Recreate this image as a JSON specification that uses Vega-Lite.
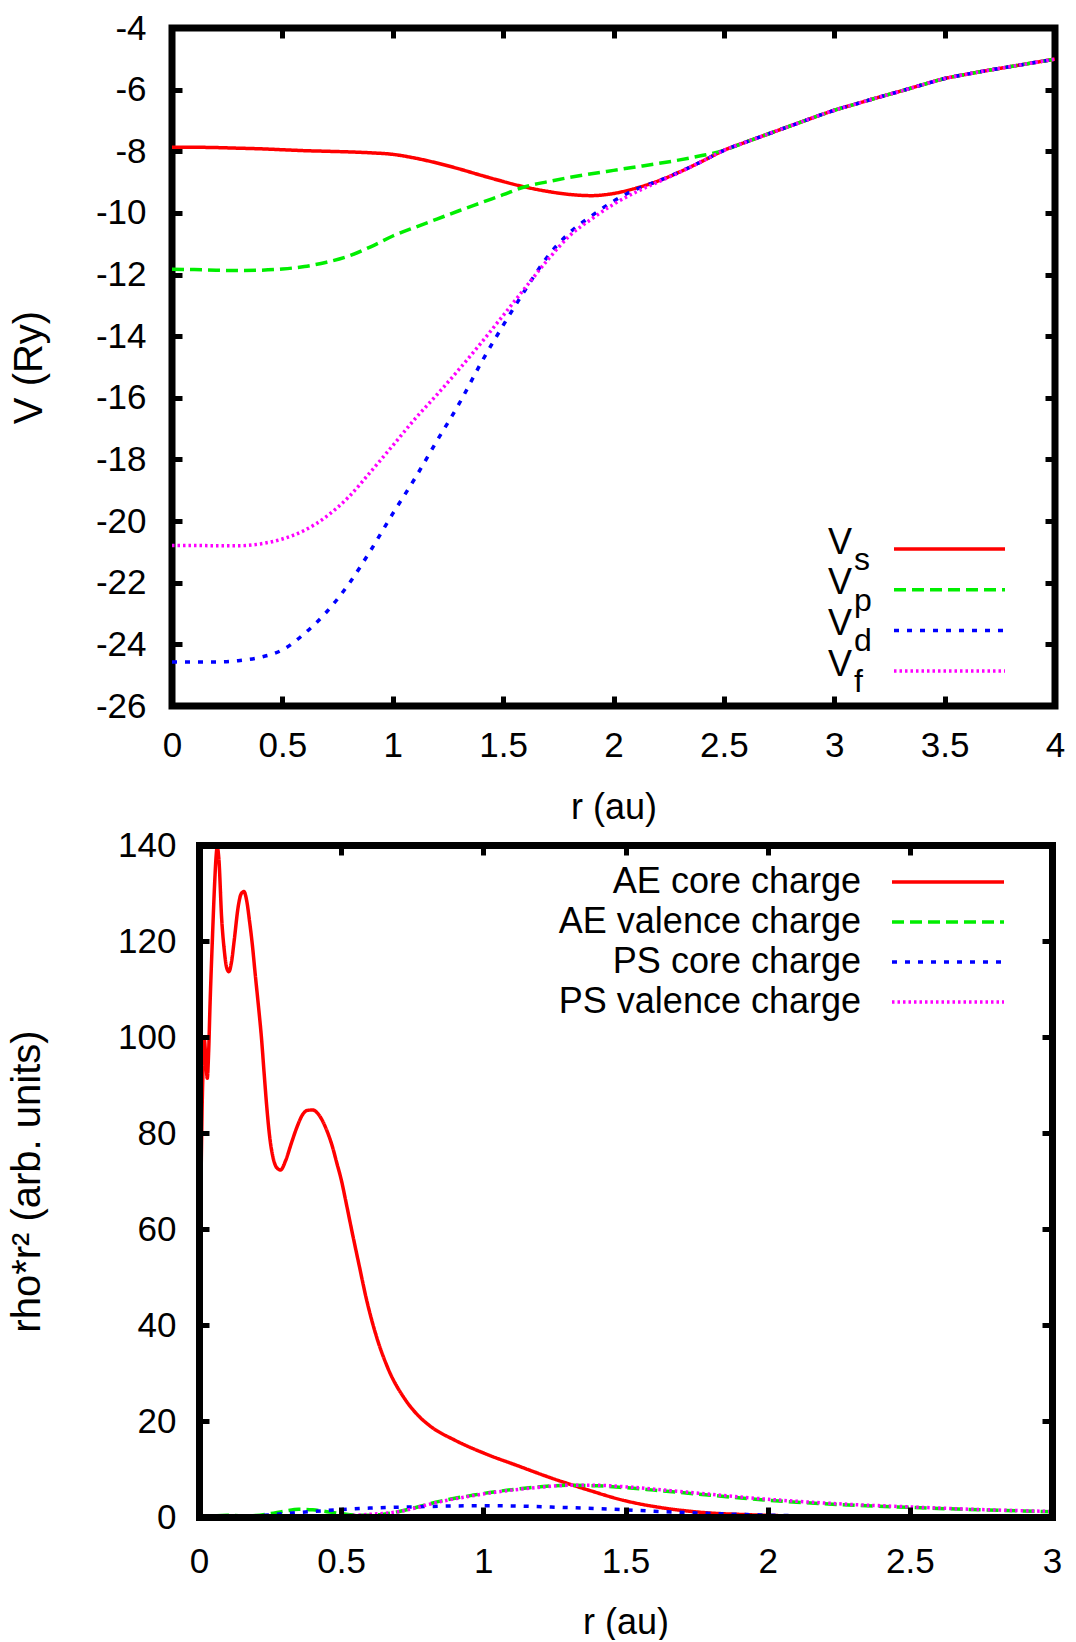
{
  "$schema": "https://vega.github.io/schema/vega-lite/v6.json",
  "padding": {"left": 5, "top": 7, "right": 5, "bottom": 0},
  "background": "white",
  "config": {
    "font": "Liberation Sans",
    "view": {"stroke": "black", "strokeWidth": 7},
    "axis": {"domain": false, "grid": false, "ticks": true, "tickSize": -10, "tickWidth": 5, "tickColor": "black",
             "labelFont": "Liberation Sans", "labelFontSize": 35, "labelColor": "black", "labelOverlap": false, "labelFlush": false,
             "titleFont": "Liberation Sans", "titleFontWeight": "normal", "titleColor": "black",
             "labelExpr": "'' + datum.value"},
    "legend": {"labelFont": "Liberation Sans", "labelColor": "black", "labelFontSize": 36, "labelLimit": 600}
  },
  "datasets": {
    "pot": [
      {"r":0.0,"V":-7.87,"series":"V_s"},{"r":0.1,"V":-7.87,"series":"V_s"},{"r":0.2,"V":-7.88,"series":"V_s"},{"r":0.3,"V":-7.9,"series":"V_s"},{"r":0.4,"V":-7.92,"series":"V_s"},{"r":0.5,"V":-7.95,"series":"V_s"},{"r":0.6,"V":-7.98,"series":"V_s"},{"r":0.7,"V":-8.0,"series":"V_s"},{"r":0.8,"V":-8.02,"series":"V_s"},{"r":0.9,"V":-8.05,"series":"V_s"},{"r":1.0,"V":-8.1,"series":"V_s"},{"r":1.1,"V":-8.22,"series":"V_s"},{"r":1.2,"V":-8.38,"series":"V_s"},{"r":1.3,"V":-8.57,"series":"V_s"},{"r":1.4,"V":-8.78,"series":"V_s"},{"r":1.5,"V":-8.98,"series":"V_s"},{"r":1.6,"V":-9.16,"series":"V_s"},{"r":1.7,"V":-9.3,"series":"V_s"},{"r":1.8,"V":-9.4,"series":"V_s"},{"r":1.9,"V":-9.44,"series":"V_s"},{"r":2.0,"V":-9.37,"series":"V_s"},{"r":2.1,"V":-9.2,"series":"V_s"},{"r":2.2,"V":-8.97,"series":"V_s"},{"r":2.3,"V":-8.67,"series":"V_s"},{"r":2.4,"V":-8.33,"series":"V_s"},{"r":2.5,"V":-7.97,"series":"V_s"},{"r":2.6,"V":-7.7,"series":"V_s"},{"r":2.7,"V":-7.44,"series":"V_s"},{"r":2.8,"V":-7.18,"series":"V_s"},{"r":2.9,"V":-6.92,"series":"V_s"},{"r":3.0,"V":-6.67,"series":"V_s"},{"r":3.1,"V":-6.46,"series":"V_s"},{"r":3.2,"V":-6.25,"series":"V_s"},{"r":3.3,"V":-6.05,"series":"V_s"},{"r":3.4,"V":-5.84,"series":"V_s"},{"r":3.5,"V":-5.64,"series":"V_s"},{"r":3.6,"V":-5.5,"series":"V_s"},{"r":3.7,"V":-5.37,"series":"V_s"},{"r":3.8,"V":-5.25,"series":"V_s"},{"r":3.9,"V":-5.13,"series":"V_s"},{"r":4.0,"V":-5.01,"series":"V_s"},
      {"r":0.0,"V":-11.83,"series":"V_p"},{"r":0.1,"V":-11.84,"series":"V_p"},{"r":0.2,"V":-11.86,"series":"V_p"},{"r":0.3,"V":-11.87,"series":"V_p"},{"r":0.4,"V":-11.86,"series":"V_p"},{"r":0.5,"V":-11.82,"series":"V_p"},{"r":0.6,"V":-11.74,"series":"V_p"},{"r":0.7,"V":-11.6,"series":"V_p"},{"r":0.8,"V":-11.4,"series":"V_p"},{"r":0.9,"V":-11.1,"series":"V_p"},{"r":1.0,"V":-10.75,"series":"V_p"},{"r":1.1,"V":-10.47,"series":"V_p"},{"r":1.2,"V":-10.2,"series":"V_p"},{"r":1.3,"V":-9.93,"series":"V_p"},{"r":1.4,"V":-9.67,"series":"V_p"},{"r":1.5,"V":-9.41,"series":"V_p"},{"r":1.6,"V":-9.15,"series":"V_p"},{"r":1.7,"V":-8.99,"series":"V_p"},{"r":1.8,"V":-8.85,"series":"V_p"},{"r":1.9,"V":-8.73,"series":"V_p"},{"r":2.0,"V":-8.62,"series":"V_p"},{"r":2.1,"V":-8.51,"series":"V_p"},{"r":2.2,"V":-8.4,"series":"V_p"},{"r":2.3,"V":-8.28,"series":"V_p"},{"r":2.4,"V":-8.14,"series":"V_p"},{"r":2.5,"V":-7.97,"series":"V_p"},{"r":2.6,"V":-7.7,"series":"V_p"},{"r":2.7,"V":-7.44,"series":"V_p"},{"r":2.8,"V":-7.18,"series":"V_p"},{"r":2.9,"V":-6.92,"series":"V_p"},{"r":3.0,"V":-6.67,"series":"V_p"},{"r":3.1,"V":-6.46,"series":"V_p"},{"r":3.2,"V":-6.25,"series":"V_p"},{"r":3.3,"V":-6.05,"series":"V_p"},{"r":3.4,"V":-5.84,"series":"V_p"},{"r":3.5,"V":-5.64,"series":"V_p"},{"r":3.6,"V":-5.5,"series":"V_p"},{"r":3.7,"V":-5.37,"series":"V_p"},{"r":3.8,"V":-5.25,"series":"V_p"},{"r":3.9,"V":-5.13,"series":"V_p"},{"r":4.0,"V":-5.01,"series":"V_p"},
      {"r":0.0,"V":-24.57,"series":"V_d"},{"r":0.1,"V":-24.57,"series":"V_d"},{"r":0.2,"V":-24.57,"series":"V_d"},{"r":0.3,"V":-24.53,"series":"V_d"},{"r":0.4,"V":-24.42,"series":"V_d"},{"r":0.5,"V":-24.18,"series":"V_d"},{"r":0.6,"V":-23.65,"series":"V_d"},{"r":0.7,"V":-22.95,"series":"V_d"},{"r":0.8,"V":-22.05,"series":"V_d"},{"r":0.9,"V":-20.95,"series":"V_d"},{"r":1.0,"V":-19.76,"series":"V_d"},{"r":1.1,"V":-18.62,"series":"V_d"},{"r":1.2,"V":-17.4,"series":"V_d"},{"r":1.3,"V":-16.2,"series":"V_d"},{"r":1.4,"V":-14.87,"series":"V_d"},{"r":1.5,"V":-13.65,"series":"V_d"},{"r":1.6,"V":-12.5,"series":"V_d"},{"r":1.7,"V":-11.43,"series":"V_d"},{"r":1.8,"V":-10.65,"series":"V_d"},{"r":1.9,"V":-10.1,"series":"V_d"},{"r":2.0,"V":-9.62,"series":"V_d"},{"r":2.1,"V":-9.24,"series":"V_d"},{"r":2.2,"V":-8.97,"series":"V_d"},{"r":2.3,"V":-8.67,"series":"V_d"},{"r":2.4,"V":-8.33,"series":"V_d"},{"r":2.5,"V":-7.97,"series":"V_d"},{"r":2.6,"V":-7.7,"series":"V_d"},{"r":2.7,"V":-7.44,"series":"V_d"},{"r":2.8,"V":-7.18,"series":"V_d"},{"r":2.9,"V":-6.92,"series":"V_d"},{"r":3.0,"V":-6.67,"series":"V_d"},{"r":3.1,"V":-6.46,"series":"V_d"},{"r":3.2,"V":-6.25,"series":"V_d"},{"r":3.3,"V":-6.05,"series":"V_d"},{"r":3.4,"V":-5.84,"series":"V_d"},{"r":3.5,"V":-5.64,"series":"V_d"},{"r":3.6,"V":-5.5,"series":"V_d"},{"r":3.7,"V":-5.37,"series":"V_d"},{"r":3.8,"V":-5.25,"series":"V_d"},{"r":3.9,"V":-5.13,"series":"V_d"},{"r":4.0,"V":-5.01,"series":"V_d"},
      {"r":0.0,"V":-20.79,"series":"V_f"},{"r":0.1,"V":-20.79,"series":"V_f"},{"r":0.2,"V":-20.8,"series":"V_f"},{"r":0.3,"V":-20.8,"series":"V_f"},{"r":0.4,"V":-20.74,"series":"V_f"},{"r":0.5,"V":-20.58,"series":"V_f"},{"r":0.6,"V":-20.3,"series":"V_f"},{"r":0.7,"V":-19.85,"series":"V_f"},{"r":0.8,"V":-19.22,"series":"V_f"},{"r":0.9,"V":-18.4,"series":"V_f"},{"r":1.0,"V":-17.55,"series":"V_f"},{"r":1.1,"V":-16.69,"series":"V_f"},{"r":1.2,"V":-15.9,"series":"V_f"},{"r":1.3,"V":-15.08,"series":"V_f"},{"r":1.4,"V":-14.22,"series":"V_f"},{"r":1.5,"V":-13.33,"series":"V_f"},{"r":1.6,"V":-12.43,"series":"V_f"},{"r":1.7,"V":-11.54,"series":"V_f"},{"r":1.8,"V":-10.75,"series":"V_f"},{"r":1.9,"V":-10.2,"series":"V_f"},{"r":2.0,"V":-9.72,"series":"V_f"},{"r":2.1,"V":-9.33,"series":"V_f"},{"r":2.2,"V":-9.0,"series":"V_f"},{"r":2.3,"V":-8.68,"series":"V_f"},{"r":2.4,"V":-8.33,"series":"V_f"},{"r":2.5,"V":-7.97,"series":"V_f"},{"r":2.6,"V":-7.7,"series":"V_f"},{"r":2.7,"V":-7.44,"series":"V_f"},{"r":2.8,"V":-7.18,"series":"V_f"},{"r":2.9,"V":-6.92,"series":"V_f"},{"r":3.0,"V":-6.67,"series":"V_f"},{"r":3.1,"V":-6.46,"series":"V_f"},{"r":3.2,"V":-6.25,"series":"V_f"},{"r":3.3,"V":-6.05,"series":"V_f"},{"r":3.4,"V":-5.84,"series":"V_f"},{"r":3.5,"V":-5.64,"series":"V_f"},{"r":3.6,"V":-5.5,"series":"V_f"},{"r":3.7,"V":-5.37,"series":"V_f"},{"r":3.8,"V":-5.25,"series":"V_f"},{"r":3.9,"V":-5.13,"series":"V_f"},{"r":4.0,"V":-5.01,"series":"V_f"}
    ],
    "rho": [
      {"r":0,"rho":0,"series":"AE core charge"},{"r":0.003,"rho":35,"series":"AE core charge"},{"r":0.0065,"rho":66,"series":"AE core charge"},{"r":0.0095,"rho":80,"series":"AE core charge"},{"r":0.014,"rho":93,"series":"AE core charge"},{"r":0.0186,"rho":99.5,"series":"AE core charge"},{"r":0.024,"rho":95.5,"series":"AE core charge"},{"r":0.029,"rho":91.4,"series":"AE core charge"},{"r":0.034,"rho":97,"series":"AE core charge"},{"r":0.0386,"rho":106.3,"series":"AE core charge"},{"r":0.047,"rho":120.2,"series":"AE core charge"},{"r":0.055,"rho":132,"series":"AE core charge"},{"r":0.06,"rho":137.5,"series":"AE core charge"},{"r":0.064,"rho":139.6,"series":"AE core charge"},{"r":0.07,"rho":137,"series":"AE core charge"},{"r":0.0796,"rho":124.8,"series":"AE core charge"},{"r":0.089,"rho":118,"series":"AE core charge"},{"r":0.097,"rho":114.5,"series":"AE core charge"},{"r":0.105,"rho":113.6,"series":"AE core charge"},{"r":0.114,"rho":115.5,"series":"AE core charge"},{"r":0.124,"rho":120.2,"series":"AE core charge"},{"r":0.138,"rho":127.2,"series":"AE core charge"},{"r":0.148,"rho":129.8,"series":"AE core charge"},{"r":0.158,"rho":130.3,"series":"AE core charge"},{"r":0.168,"rho":128.3,"series":"AE core charge"},{"r":0.178,"rho":124,"series":"AE core charge"},{"r":0.188,"rho":119,"series":"AE core charge"},{"r":0.197,"rho":113.5,"series":"AE core charge"},{"r":0.209,"rho":106.5,"series":"AE core charge"},{"r":0.22,"rho":99.6,"series":"AE core charge"},{"r":0.229,"rho":92.5,"series":"AE core charge"},{"r":0.238,"rho":85.7,"series":"AE core charge"},{"r":0.249,"rho":79,"series":"AE core charge"},{"r":0.26,"rho":75,"series":"AE core charge"},{"r":0.273,"rho":72.8,"series":"AE core charge"},{"r":0.287,"rho":72.3,"series":"AE core charge"},{"r":0.305,"rho":74.3,"series":"AE core charge"},{"r":0.325,"rho":77.9,"series":"AE core charge"},{"r":0.345,"rho":81.3,"series":"AE core charge"},{"r":0.362,"rho":83.6,"series":"AE core charge"},{"r":0.38,"rho":84.7,"series":"AE core charge"},{"r":0.4,"rho":84.8,"series":"AE core charge"},{"r":0.42,"rho":83.9,"series":"AE core charge"},{"r":0.449,"rho":80.6,"series":"AE core charge"},{"r":0.469,"rho":77.2,"series":"AE core charge"},{"r":0.484,"rho":73.9,"series":"AE core charge"},{"r":0.501,"rho":70.1,"series":"AE core charge"},{"r":0.517,"rho":65.6,"series":"AE core charge"},{"r":0.538,"rho":59.5,"series":"AE core charge"},{"r":0.563,"rho":52.5,"series":"AE core charge"},{"r":0.588,"rho":45.6,"series":"AE core charge"},{"r":0.62,"rho":38.4,"series":"AE core charge"},{"r":0.663,"rho":31.2,"series":"AE core charge"},{"r":0.726,"rho":24.4,"series":"AE core charge"},{"r":0.77,"rho":21.2,"series":"AE core charge"},{"r":0.814,"rho":18.9,"series":"AE core charge"},{"r":0.9,"rho":16.0,"series":"AE core charge"},{"r":1.002,"rho":13.3,"series":"AE core charge"},{"r":1.12,"rho":10.7,"series":"AE core charge"},{"r":1.24,"rho":8.1,"series":"AE core charge"},{"r":1.37,"rho":5.6,"series":"AE core charge"},{"r":1.491,"rho":3.5,"series":"AE core charge"},{"r":1.62,"rho":2.0,"series":"AE core charge"},{"r":1.742,"rho":1.1,"series":"AE core charge"},{"r":1.942,"rho":0.45,"series":"AE core charge"},{"r":2.2,"rho":0.15,"series":"AE core charge"},{"r":2.5,"rho":0.04,"series":"AE core charge"},{"r":3.0,"rho":0,"series":"AE core charge"},
      {"r":0,"rho":0,"series":"AE valence charge"},{"r":0.05,"rho":0.2,"series":"AE valence charge"},{"r":0.1,"rho":0.35,"series":"AE valence charge"},{"r":0.15,"rho":0.25,"series":"AE valence charge"},{"r":0.2,"rho":0.3,"series":"AE valence charge"},{"r":0.25,"rho":0.7,"series":"AE valence charge"},{"r":0.3,"rho":1.2,"series":"AE valence charge"},{"r":0.35,"rho":1.6,"series":"AE valence charge"},{"r":0.4,"rho":1.5,"series":"AE valence charge"},{"r":0.45,"rho":1.1,"series":"AE valence charge"},{"r":0.5,"rho":0.7,"series":"AE valence charge"},{"r":0.55,"rho":0.4,"series":"AE valence charge"},{"r":0.6,"rho":0.35,"series":"AE valence charge"},{"r":0.65,"rho":0.6,"series":"AE valence charge"},{"r":0.7,"rho":1.1,"series":"AE valence charge"},{"r":0.75,"rho":1.8,"series":"AE valence charge"},{"r":0.8,"rho":2.6,"series":"AE valence charge"},{"r":0.85,"rho":3.3,"series":"AE valence charge"},{"r":0.9,"rho":3.9,"series":"AE valence charge"},{"r":0.95,"rho":4.4,"series":"AE valence charge"},{"r":1.0,"rho":4.9,"series":"AE valence charge"},{"r":1.1,"rho":5.7,"series":"AE valence charge"},{"r":1.2,"rho":6.3,"series":"AE valence charge"},{"r":1.3,"rho":6.6,"series":"AE valence charge"},{"r":1.4,"rho":6.5,"series":"AE valence charge"},{"r":1.5,"rho":6.1,"series":"AE valence charge"},{"r":1.6,"rho":5.6,"series":"AE valence charge"},{"r":1.75,"rho":4.8,"series":"AE valence charge"},{"r":2.0,"rho":3.5,"series":"AE valence charge"},{"r":2.25,"rho":2.6,"series":"AE valence charge"},{"r":2.5,"rho":2.0,"series":"AE valence charge"},{"r":2.75,"rho":1.5,"series":"AE valence charge"},{"r":3.0,"rho":1.1,"series":"AE valence charge"},
      {"r":0,"rho":0,"series":"PS core charge"},{"r":0.1,"rho":0.05,"series":"PS core charge"},{"r":0.2,"rho":0.25,"series":"PS core charge"},{"r":0.3,"rho":0.7,"series":"PS core charge"},{"r":0.4,"rho":1.15,"series":"PS core charge"},{"r":0.5,"rho":1.55,"series":"PS core charge"},{"r":0.6,"rho":1.85,"series":"PS core charge"},{"r":0.75,"rho":2.1,"series":"PS core charge"},{"r":0.9,"rho":2.3,"series":"PS core charge"},{"r":1.0,"rho":2.35,"series":"PS core charge"},{"r":1.1,"rho":2.3,"series":"PS core charge"},{"r":1.25,"rho":2.05,"series":"PS core charge"},{"r":1.4,"rho":1.75,"series":"PS core charge"},{"r":1.5,"rho":1.5,"series":"PS core charge"},{"r":1.6,"rho":1.2,"series":"PS core charge"},{"r":1.75,"rho":0.85,"series":"PS core charge"},{"r":1.9,"rho":0.55,"series":"PS core charge"},{"r":2.0,"rho":0.4,"series":"PS core charge"},{"r":2.25,"rho":0.15,"series":"PS core charge"},{"r":2.5,"rho":0.05,"series":"PS core charge"},{"r":3.0,"rho":0,"series":"PS core charge"},
      {"r":0,"rho":0,"series":"PS valence charge"},{"r":0.2,"rho":0.02,"series":"PS valence charge"},{"r":0.3,"rho":0.05,"series":"PS valence charge"},{"r":0.4,"rho":0.1,"series":"PS valence charge"},{"r":0.5,"rho":0.25,"series":"PS valence charge"},{"r":0.6,"rho":0.55,"series":"PS valence charge"},{"r":0.7,"rho":1.1,"series":"PS valence charge"},{"r":0.75,"rho":1.7,"series":"PS valence charge"},{"r":0.8,"rho":2.5,"series":"PS valence charge"},{"r":0.85,"rho":3.2,"series":"PS valence charge"},{"r":0.9,"rho":3.8,"series":"PS valence charge"},{"r":0.95,"rho":4.3,"series":"PS valence charge"},{"r":1.0,"rho":4.8,"series":"PS valence charge"},{"r":1.1,"rho":5.6,"series":"PS valence charge"},{"r":1.2,"rho":6.2,"series":"PS valence charge"},{"r":1.3,"rho":6.6,"series":"PS valence charge"},{"r":1.4,"rho":6.6,"series":"PS valence charge"},{"r":1.5,"rho":6.3,"series":"PS valence charge"},{"r":1.6,"rho":5.8,"series":"PS valence charge"},{"r":1.75,"rho":5.0,"series":"PS valence charge"},{"r":2.0,"rho":3.7,"series":"PS valence charge"},{"r":2.25,"rho":2.75,"series":"PS valence charge"},{"r":2.5,"rho":2.1,"series":"PS valence charge"},{"r":2.75,"rho":1.55,"series":"PS valence charge"},{"r":3.0,"rho":1.15,"series":"PS valence charge"}
    ]
  },
  "spacing": -1,
  "resolve": {"scale": {"color": "independent", "strokeDash": "independent"}, "legend": {"color": "independent", "strokeDash": "independent"}},
  "vconcat": [
    {
      "width": 883,
      "height": 678,
      "data": {"name": "pot"},
      "layer": [
        {
          "mark": {"type": "line", "strokeWidth": 3.5, "interpolate": "monotone", "clip": true},
          "encoding": {
            "x": {"field": "r", "type": "quantitative", "scale": {"domain": [0, 4], "nice": false, "zero": false},
                  "axis": {"values": [0, 0.5, 1, 1.5, 2, 2.5, 3, 3.5, 4], "title": "r (au)", "titleFontSize": 36, "labelPadding": 32, "titlePadding": 27}},
            "y": {"field": "V", "type": "quantitative", "scale": {"domain": [-26, -4], "nice": false, "zero": false},
                  "axis": {"values": [-26, -24, -22, -20, -18, -16, -14, -12, -10, -8, -6, -4], "title": "V (Ry)", "titleFontSize": 40, "labelPadding": 36, "titlePadding": 46}},
            "color": {"field": "series", "type": "nominal",
                      "scale": {"domain": ["V_s", "V_p", "V_d", "V_f"], "range": ["#ff0000", "#00ee00", "#0000ff", "#ff00ff"]},
                      "legend": {"title": null, "orient": "none", "legendX": 720, "legendY": 495.5, "symbolType": "stroke", "symbolSize": 12321, "symbolStrokeWidth": 3.5,
                                 "labelAlign": "left", "labelOffset": -179, "rowPadding": 3.7, "padding": 0,
                                 "labelExpr": "'V'",
                                 "encode": {"labels": {"update": {"y": {"value": 19}}},
                                            "symbols": {"update": {"y": {"value": 25.5},
                                                                   "strokeDash": {"signal": "datum.value === 'V_p' ? [12, 6] : datum.value === 'V_d' ? [5, 8] : datum.value === 'V_f' ? [2.5, 3] : [1, 0]"}}}}}},
            "strokeDash": {"field": "series", "type": "nominal", "sort": ["V_s", "V_p", "V_d", "V_f"],
                           "scale": {"range": [[1, 0], [12, 6], [5, 8], [2.5, 3]]},
                           "legend": {"title": null, "orient": "none", "legendX": 720, "legendY": 513, "symbolType": "stroke", "symbolSize": 12321, "symbolStrokeWidth": 3.5, "symbolOpacity": 0,
                                 "labelAlign": "left", "labelOffset": -153, "labelFontSize": 32, "rowPadding": 5.7, "padding": 0,
                                 "labelExpr": "substring(datum.label, 2)",
                                 "encode": {"labels": {"update": {"y": {"value": 19}}}, "symbols": {"update": {"y": {"value": 19}}}}}}
          }
        },
        {
          "mark": {"type": "line", "opacity": 0},
          "encoding": {
            "x": {"field": "r", "type": "quantitative", "scale": {"domain": [0, 4], "nice": false, "zero": false},
                  "axis": {"orient": "top", "values": [0, 0.5, 1, 1.5, 2, 2.5, 3, 3.5, 4], "labels": false, "title": null}},
            "y": {"field": "V", "type": "quantitative", "scale": {"domain": [-26, -4], "nice": false, "zero": false},
                  "axis": {"orient": "right", "values": [-26, -24, -22, -20, -18, -16, -14, -12, -10, -8, -6, -4], "labels": false, "title": null}},
            "detail": {"field": "series"}
          }
        }
      ],
      "resolve": {"axis": {"x": "independent", "y": "independent"}}
    },
    {
      "width": 880,
      "height": 672,
      "view": {"stroke": null},
      "data": {"name": "rho"},
      "layer": [
        {
          "mark": {"type": "line", "strokeWidth": 3.5, "interpolate": "monotone", "clip": true},
          "encoding": {
            "x": {"field": "r", "type": "quantitative", "scale": {"domain": [0, 3], "range": [27, 880], "nice": false, "zero": false},
                  "axis": {"values": [0, 0.5, 1, 1.5, 2, 2.5, 3], "title": "r (au)", "titleFontSize": 36, "labelPadding": 37, "titlePadding": 26, "zindex": 1,
                           "domain": true, "domainWidth": 7, "domainColor": "black", "domainCap": "square"}},
            "y": {"field": "rho", "type": "quantitative", "scale": {"domain": [0, 140], "nice": false, "zero": false},
                  "axis": {"values": [0, 20, 40, 60, 80, 100, 120, 140], "title": "rho*r² (arb. units)", "titleFontSize": 40, "labelPadding": 33, "titlePadding": 70, "zindex": 1,
                           "offset": -27, "domain": true, "domainWidth": 7, "domainColor": "black", "domainCap": "square"}},
            "color": {"field": "series", "type": "nominal",
                      "scale": {"domain": ["AE core charge", "AE valence charge", "PS core charge", "PS valence charge"], "range": ["#ff0000", "#00ee00", "#0000ff", "#ff00ff"]},
                      "legend": {"title": null, "orient": "none", "legendX": 718, "legendY": 18, "symbolType": "stroke", "symbolSize": 12544, "symbolStrokeWidth": 3.5,
                                 "labelAlign": "right", "labelOffset": -145, "rowPadding": 3, "padding": 0,
                                 "encode": {"labels": {"update": {"y": {"value": 19}}}, "symbols": {"update": {"y": {"value": 19}}}}}},
            "strokeDash": {"field": "series", "type": "nominal",
                           "scale": {"domain": ["AE core charge", "AE valence charge", "PS core charge", "PS valence charge"], "range": [[1, 0], [12, 6], [5, 8], [2.5, 3]]},
                           "legend": {"title": null, "orient": "none", "legendX": 718, "legendY": 18, "symbolType": "stroke", "symbolSize": 12544, "symbolStrokeWidth": 3.5,
                                 "labelAlign": "right", "labelOffset": -145, "rowPadding": 3, "padding": 0,
                                 "encode": {"labels": {"update": {"y": {"value": 19}}}, "symbols": {"update": {"y": {"value": 19}}}}}}
          }
        },
        {
          "mark": {"type": "line", "opacity": 0},
          "encoding": {
            "x": {"field": "r", "type": "quantitative", "scale": {"domain": [0, 3], "range": [27, 880], "nice": false, "zero": false},
                  "axis": {"orient": "top", "values": [0, 0.5, 1, 1.5, 2, 2.5, 3], "labels": false, "title": null, "zindex": 1,
                           "domain": true, "domainWidth": 7, "domainColor": "black", "domainCap": "square"}},
            "y": {"field": "rho", "type": "quantitative", "scale": {"domain": [0, 140], "nice": false, "zero": false},
                  "axis": {"orient": "right", "values": [0, 20, 40, 60, 80, 100, 120, 140], "labels": false, "title": null, "zindex": 1,
                           "domain": true, "domainWidth": 7, "domainColor": "black", "domainCap": "square"}},
            "detail": {"field": "series"}
          }
        }
      ],
      "resolve": {"axis": {"x": "independent", "y": "independent"}}
    }
  ]
}
